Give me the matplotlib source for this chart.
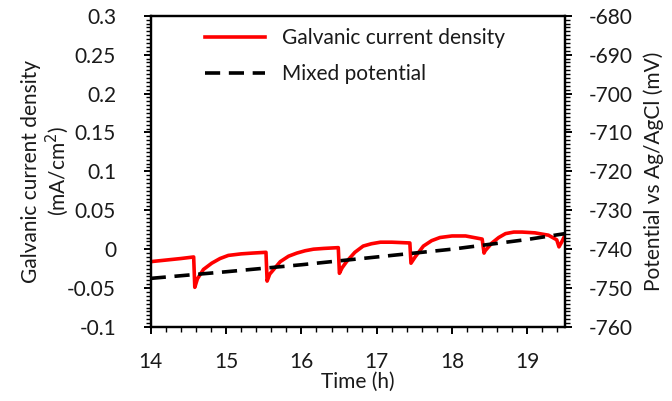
import matplotlib
matplotlib.use("Agg")
import matplotlib.pyplot as plt
from matplotlib.ticker import MultipleLocator, FixedLocator, FixedFormatter

plt.rcParams['font.family'] = ['Lato', 'DejaVu Sans']

# Galvanic current density (mA/cm2) vs time (h)
time_current = [14.0, 14.2, 14.4, 14.57, 14.585, 14.62, 14.7, 14.81, 14.92, 15.03, 15.2, 15.35,
                15.53, 15.545, 15.58, 15.65, 15.72, 15.83, 15.94, 16.05, 16.16, 16.3, 16.49,
                16.505, 16.54, 16.6, 16.71, 16.82, 16.93, 17.05, 17.2, 17.44, 17.455, 17.51,
                17.62, 17.73, 17.84, 18.0, 18.18, 18.40, 18.425, 18.44, 18.53, 18.62, 18.71,
                18.82, 18.93, 19.1, 19.28, 19.39, 19.42, 19.46, 19.5]
current = [-0.016, -0.014, -0.012, -0.010, -0.049, -0.038, -0.026, -0.018, -0.012, -0.008, -0.006, -0.005,
           -0.004, -0.041, -0.032, -0.024, -0.016, -0.009, -0.005, -0.002, 0.000, 0.001, 0.002,
           -0.031, -0.024, -0.016, -0.004, 0.004, 0.007, 0.009, 0.009, 0.008, -0.018, -0.010,
           0.004, 0.011, 0.015, 0.017, 0.017, 0.013, -0.005, -0.002, 0.008, 0.015, 0.020,
           0.022, 0.022, 0.021, 0.018, 0.012, 0.003, 0.010, 0.018]

# Mixed potential (mV vs Ag/AgCl)
time_potential = [14.0, 15.0, 16.0, 17.0, 18.0, 19.0, 19.5]
potential = [-747.5, -745.8, -744.0, -742.0, -740.0, -737.5, -736.0]

left_ticks = [0.3, 0.25, 0.2, 0.15, 0.1, 0.05, 0, -0.05, -0.1]
left_labels = ["0.3", "0.25", "0.2", "0.15", "0.1", "0.05", "0", "-0.05", "-0.1"]
right_ticks = [-680, -690, -700, -710, -720, -730, -740, -750, -760]
right_labels = ["-680", "-690", "-700", "-710", "-720", "-730", "-740", "-750", "-760"]
x_ticks = [14, 15, 16, 17, 18, 19]

fig = plt.figure(figsize=(6.72, 4.01), dpi=100)
ax = fig.add_axes([0.2243, 0.1845, 0.8408 - 0.2243, 0.9608 - 0.1845])
ax2 = ax.twinx()

txt = '#1a1a1a'
fs = 15

l1, = ax.plot(time_current, current, color='#ff0000', lw=2.6, label='Galvanic current density')
l2, = ax2.plot(time_potential, potential, color='black', lw=2.6, dashes=(4.2, 2.4),
               label='Mixed potential')

ax.set_xlim(14, 19.5)
ax.set_ylim(-0.1, 0.3)
ax2.set_ylim(-760, -680)

ax.xaxis.set_major_locator(FixedLocator(x_ticks))
ax.xaxis.set_minor_locator(MultipleLocator(0.2))
ax.yaxis.set_major_locator(FixedLocator(left_ticks))
ax.yaxis.set_major_formatter(FixedFormatter(left_labels))
ax.yaxis.set_minor_locator(MultipleLocator(0.005))
ax2.yaxis.set_major_locator(FixedLocator(right_ticks))
ax2.yaxis.set_major_formatter(FixedFormatter(right_labels))
ax2.yaxis.set_minor_locator(MultipleLocator(1))

for a in (ax, ax2):
    for s in a.spines.values():
        s.set_linewidth(1.6)
        s.set_color('black')
    a.tick_params(which='major', direction='out', length=5, width=1.4, labelsize=fs,
                  labelcolor=txt, pad=12)
    a.tick_params(which='minor', direction='out', length=3.5, width=1.0)
ax.tick_params(axis='x', which='major', pad=13)
ax.tick_params(axis='y', which='major', pad=20)

ax.set_xlabel('Time (h)', fontsize=fs, color=txt, labelpad=0)
ax.set_ylabel('Galvanic current density\n(mA/cm$^2$)', fontsize=fs, color=txt, labelpad=-3,
              linespacing=1.15)
ax2.set_ylabel('Potential vs Ag/AgCl (mV)', fontsize=fs, color=txt, labelpad=8)

leg = ax.legend(handles=[l1, l2], loc='upper left', bbox_to_anchor=(0.085, 1.02), frameon=False,
                fontsize=fs, handlelength=2.9, handletextpad=0.8, labelspacing=0.75)
for t in leg.get_texts():
    t.set_color(txt)

fig.savefig('out.png', dpi=100)
